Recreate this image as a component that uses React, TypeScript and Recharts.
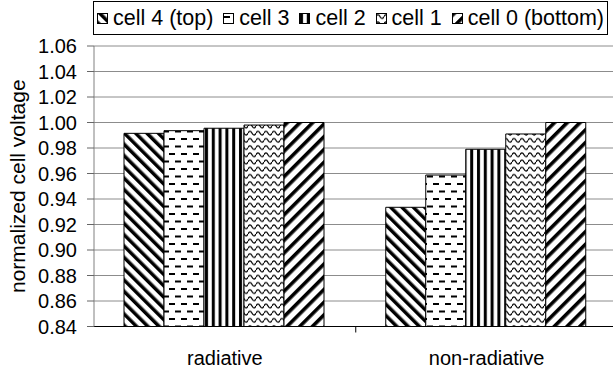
import React from 'react';
import {
  BarChart,
  Bar,
  XAxis,
  YAxis,
  CartesianGrid,
  Legend,
  ReferenceLine,
} from 'recharts';

// values
const categories = ['radiative', 'non-radiative'];
const cell4 = [0.9915, 0.9335];
const cell3 = [0.9936, 0.9588];
const cell2 = [0.9955, 0.979];
const cell1 = [0.998, 0.991];
const cell0 = [1.0, 1.0];
const yTicks = [0.84, 0.86, 0.88, 0.9, 0.92, 0.94, 0.96, 0.98, 1.0, 1.02, 1.04, 1.06];

const seriesNames = ['cell 4 (top)', 'cell 3', 'cell 2', 'cell 1', 'cell 0 (bottom)'];
const seriesKeys = ['c4', 'c3', 'c2', 'c1', 'c0'];

const data = categories.map((name, i) => ({
  name,
  c4: cell4[i],
  c3: cell3[i],
  c2: cell2[i],
  c1: cell1[i],
  c0: cell0[i],
}));

const FONT = '"Liberation Sans", Arial, sans-serif';

// hatch patterns, one per cell
const Patterns: React.FC<{ prefix: string }> = ({ prefix }) => (
  <defs>
    <pattern id={`${prefix}c4`} patternUnits="userSpaceOnUse" width="8" height="8" patternTransform="rotate(-45)">
      <rect width="8" height="8" fill="#fff" />
      <rect x="0" y="0" width="3.5" height="8" fill="#000" />
    </pattern>
    <pattern id={`${prefix}c3`} patternUnits="userSpaceOnUse" width="12" height="15">
      <rect width="12" height="15" fill="#fff" />
      <rect x="1" y="3" width="6" height="2" fill="#000" />
      <rect x="7" y="10.5" width="6" height="2" fill="#000" />
      <rect x="-5" y="10.5" width="6" height="2" fill="#000" />
    </pattern>
    <pattern id={`${prefix}c2`} patternUnits="userSpaceOnUse" width="6.8" height="8">
      <rect width="6.8" height="8" fill="#fff" />
      <rect x="1" y="0" width="3" height="8" fill="#000" />
    </pattern>
    <pattern id={`${prefix}c1`} patternUnits="userSpaceOnUse" width="8" height="7.2">
      <rect width="8" height="7.2" fill="#fff" />
      <path d="M0 3.6 Q2 -0.2 4 3.6 Q6 7.4 8 3.6" fill="none" stroke="#000" strokeWidth="1.3" />
    </pattern>
    <pattern id={`${prefix}c0`} patternUnits="userSpaceOnUse" width="9" height="9" patternTransform="rotate(45)">
      <rect width="9" height="9" fill="#fff" />
      <rect x="0" y="0" width="3.6" height="9" fill="#000" />
    </pattern>
  </defs>
);

const LegendBox = () => (
  <div
    style={{
      boxSizing: 'border-box',
      width: 515,
      height: 34,
      border: '1px solid #000',
      background: '#fff',
      display: 'flex',
      alignItems: 'center',
      justifyContent: 'space-between',
      padding: '0 3px 0 3px',
      fontFamily: FONT,
      fontSize: 21.5,
      color: '#000',
      whiteSpace: 'nowrap',
    }}
  >
    {seriesKeys.map((k, i) => (
      <span key={k} style={{ display: 'flex', alignItems: 'center' }}>
        <svg width={11} height={11} style={{ marginRight: 5 }}>
          <Patterns prefix={`lg${i}`} />
          <rect x={0.5} y={0.5} width={10} height={10} fill={`url(#lg${i}${k})`} stroke="#000" />
        </svg>
        {seriesNames[i]}
      </span>
    ))}
  </div>
);

export default function App() {
  return (
    <div
      style={{
        position: 'absolute',
        left: 0,
        top: 0,
        width: 613,
        height: 370,
        overflow: 'hidden',
        background: '#fff',
      }}
    >
      <BarChart
        width={618}
        height={370}
        data={data}
        margin={{ top: 46, right: 0.5, bottom: 0, left: 0 }}
        barCategoryGap={30}
        barGap={0}
      >
        <Patterns prefix="p" />
        <CartesianGrid vertical={false} stroke="#8c8c8c" />
        <XAxis
          dataKey="name"
          height={43.5}
          tickLine={false}
          tickSize={6}
          tickMargin={18}
          axisLine={{ stroke: '#000' }}
          tick={{ fontSize: 20, fill: '#000', fontFamily: FONT }}
        />
        <YAxis
          width={94}
          domain={[0.84, 1.06]}
          ticks={yTicks}
          interval={0}
          tickFormatter={(v: number) => v.toFixed(2)}
          tickSize={7}
          tickMargin={10}
          axisLine={{ stroke: '#808080' }}
          tickLine={{ stroke: '#666' }}
          tick={{ fontSize: 20, fill: '#000', fontFamily: FONT }}
          label={{
            value: 'normalized cell voltage',
            angle: -90,
            position: 'center',
            dx: -29,
            style: { fontSize: 21, fill: '#000', fontFamily: FONT, textAnchor: 'middle' },
          }}
        />
        <Legend
          verticalAlign="middle"
          layout="horizontal"
          align="center"
          content={() => <LegendBox />}
          wrapperStyle={{ top: 1, left: 93, width: 515, height: 34 }}
        />
        {seriesKeys.map((k, i) => (
          <Bar
            key={k}
            dataKey={k}
            name={seriesNames[i]}
            fill={`url(#p${k})`}
            stroke="#000"
            strokeWidth={1}
            isAnimationActive={false}
          />
        ))}
        <ReferenceLine
          segment={[
            { x: 'radiative', y: 0.84 },
            { x: 'radiative', y: 0.8353 },
          ]}
          position="end"
          ifOverflow="visible"
          stroke="#000"
        />
      </BarChart>
    </div>
  );
}
